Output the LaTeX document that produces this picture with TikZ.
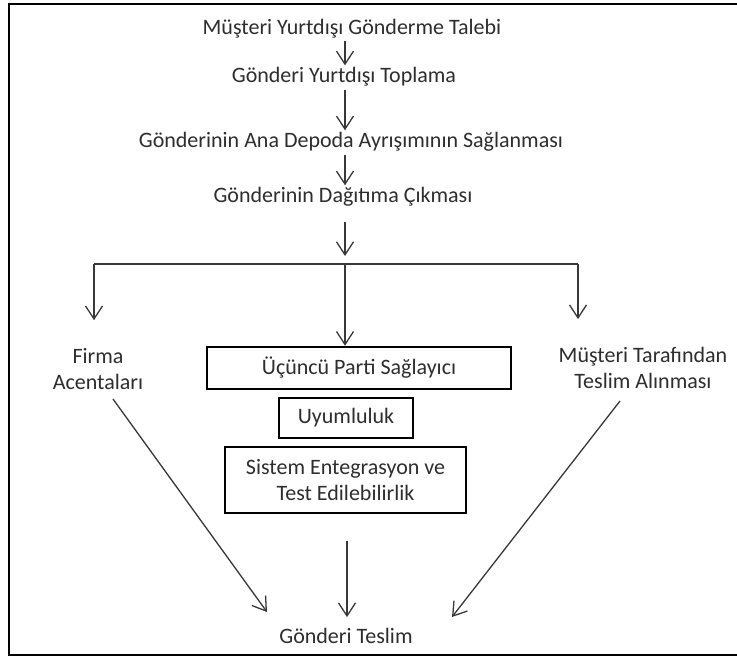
\documentclass[tikz,border=0pt]{standalone}
\usepackage{fontspec}
\setmainfont{Carlito}
\usetikzlibrary{arrows.meta}
\definecolor{ink}{HTML}{2E2E2E}
\definecolor{wire}{HTML}{383838}
\tikzset{
  lbl/.style={text=ink, font=\fontsize{22}{26}\selectfont, inner sep=0pt, align=center},
  boxed/.style={lbl, draw=black, inner sep=0pt},
  arr/.style={draw=wire, line width=1.3pt, -{Straight Barb[length=13pt,width=17pt,line width=1.3pt]}},
  wire/.style={draw=wire, line width=1.3pt},
  frame/.style={draw=black, line width=2.2pt},
}
\begin{document}
\begin{tikzpicture}[x=1pt, y=-1pt]
\useasboundingbox (0,0) rectangle (737,659);
\fill[white] (0,0) rectangle (737,659);

% table frame
\draw[frame] (8,4) -- (737,4);
\draw[frame] (9,4) -- (9,655);
\draw[frame] (8,655) -- (737,655);

% main sequence
\coordinate (spine) at (345,0);
\node[lbl] (t1) at (352,29) {Müşteri Yurtdışı Gönderme Talebi};
\node[lbl] (t2) at (344,77) {Gönderi Yurtdışı Toplama};
\node[lbl] (t3) at (351,142) {Gönderinin Ana Depoda Ayrışımının Sağlanması};
\node[lbl] (t4) at (343,197) {Gönderinin Dağıtıma Çıkması};

\draw[arr, shorten <=2pt, shorten >=2pt] (t1.south -| spine) -- (t2.north -| spine);
\draw[arr, shorten <=3pt, shorten >=2pt] (t2.south -| spine) -- (t3.north -| spine);
\draw[arr, shorten <=3pt, shorten >=2pt] (t3.south -| spine) -- (t4.north -| spine);

% branch line
\coordinate (bl) at (94,264);
\coordinate (bm) at (345,264);
\coordinate (br) at (578,264);
\draw[arr, shorten <=15pt, shorten >=8pt] (t4.south -| spine) -- (bm);
\draw[wire] (bl) -- (br);

% three branches
\node[lbl] (fa) at (98,369) {Firma\\Acentaları};
\node[boxed, line width=2.6pt, minimum width=304pt, minimum height=42pt] (tp) at (359,368) {Üçüncü Parti Sağlayıcı};
\node[boxed, line width=1.8pt, minimum width=134pt, minimum height=40pt] (uy) at (346,418) {Uyumluluk};
\node[boxed, line width=1.8pt, minimum width=241pt, minimum height=66pt] (se) at (345.5,480) {Sistem Entegrasyon ve\\Test Edilebilirlik};
\node[lbl] (mt) at (643,368) {Müşteri Tarafından\\Teslim Alınması};

\draw[arr, shorten >=28pt] (bl) -- (fa.north -| bl);
\draw[arr] (bm) -- (tp.north -| bm);
\draw[arr, shorten >=28pt] (br) -- (mt.north -| br);

% final step
\node[lbl] (gt) at (346,636) {Gönderi Teslim};
\coordinate (ls) at (113,399);
\coordinate (rs) at (620,401);
\coordinate (le) at (267,612);
\coordinate (re) at (452,617);
\draw[arr] (ls) -- (le);
\draw[arr, shorten <=27pt, shorten >=11pt] (se.south -| 347,0) -- (gt.north -| 347,0);
\draw[arr] (rs) -- (re);
\end{tikzpicture}
\end{document}
